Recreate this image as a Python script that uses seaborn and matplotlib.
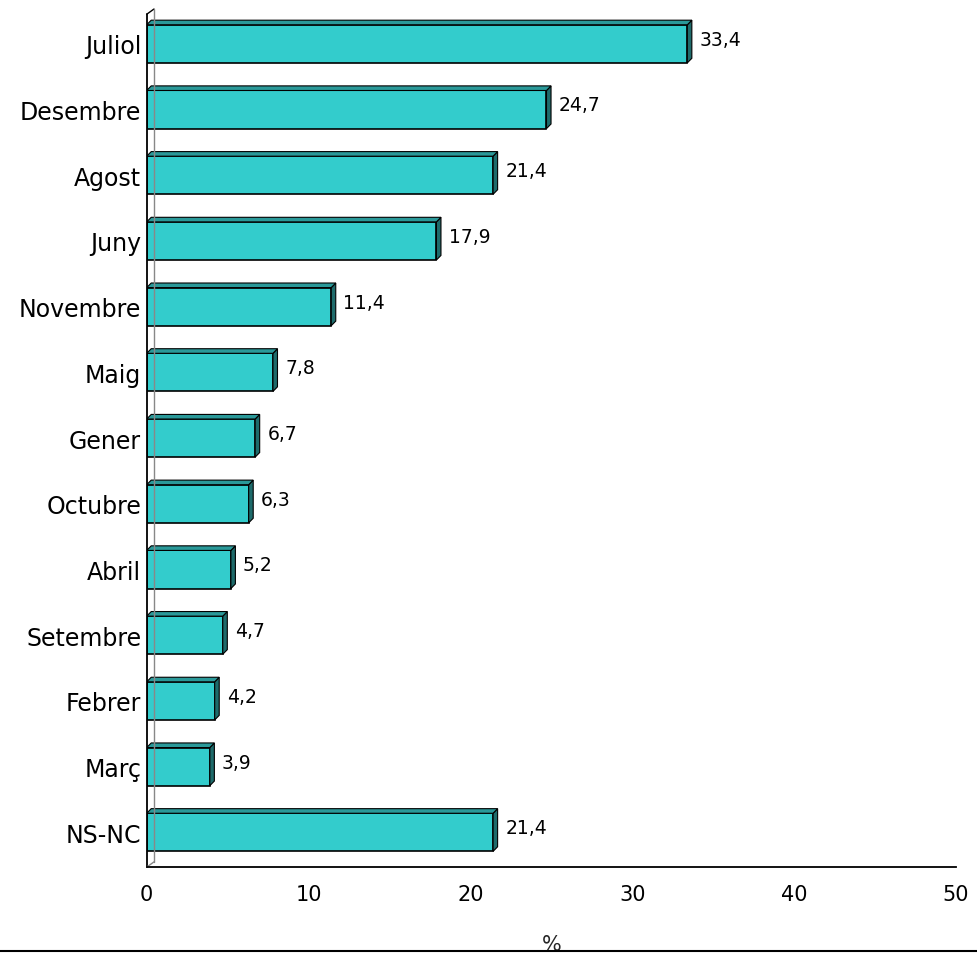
import matplotlib
matplotlib.use("Agg")
import matplotlib.pyplot as plt
import seaborn as sns
import pandas as pd
from matplotlib.patches import Polygon
from matplotlib.lines import Line2D

# ========= Data =========
months = ["Juliol", "Desembre", "Agost", "Juny", "Novembre", "Maig", "Gener",
          "Octubre", "Abril", "Setembre", "Febrer", "Març", "NS-NC"]
percent = [33.4, 24.7, 21.4, 17.9, 11.4, 7.8, 6.7, 6.3, 5.2, 4.7, 4.2, 3.9, 21.4]
labels = ["33,4", "24,7", "21,4", "17,9", "11,4", "7,8", "6,7",
          "6,3", "5,2", "4,7", "4,2", "3,9", "21,4"]

df = pd.DataFrame({"mes": months, "pct": percent})

# ========= Plot =========
sns.set_style("white")
plt.rcParams["font.family"] = ["DejaVu Sans"]
plt.rcParams["text.color"] = "black"
plt.rcParams["xtick.color"] = "black"
plt.rcParams["ytick.color"] = "black"

fig = plt.figure(figsize=(9.78, 9.54), dpi=100)
ax = fig.add_axes([0.150, 0.090, 0.8275, 0.8995])

sns.barplot(data=df, x="pct", y="mes", order=months, color="#33CCCC",
            saturation=1, width=0.58, edgecolor="black", linewidth=1.2, ax=ax)

# fake 3D depth: a dark side face and a top face on every bar
dx, dy = 0.28, 0.07
for bar in ax.patches[:len(months)]:
    x0, y0 = bar.get_x(), bar.get_y()
    w, h = bar.get_width(), bar.get_height()
    side = Polygon([(x0 + w, y0), (x0 + w + dx, y0 - dy),
                    (x0 + w + dx, y0 + h - dy), (x0 + w, y0 + h)],
                   closed=True, facecolor="#1E6B6B", edgecolor="black", linewidth=0.8)
    top = Polygon([(x0, y0), (x0 + dx, y0 - dy), (x0 + w + dx, y0 - dy), (x0 + w, y0)],
                  closed=True, facecolor="#2A9999", edgecolor="black", linewidth=0.8)
    ax.add_patch(side)
    ax.add_patch(top)

for i, (v, lab) in enumerate(zip(percent, labels)):
    ax.text(v + 0.75, i - 0.07, lab, va="center", ha="left", fontsize=13.5,
            color="black")

ax.set_xlim(0, 50)
ax.set_ylim(12.53, -0.53)
ax.set_xticks([0, 10, 20, 30, 40, 50])
ax.tick_params(axis="x", labelsize=15, length=0, pad=12)
ax.tick_params(axis="y", labelsize=17, length=0, pad=4)
ax.set_ylabel("")
ax.set_xlabel("%", fontsize=15, labelpad=22)

for s in ["top", "right", "left"]:
    ax.spines[s].set_visible(False)
ax.spines["bottom"].set_color("black")
ax.spines["bottom"].set_linewidth(1.3)

# 3D wall on the left: front edge, back edge and the slants joining them
ax.plot([0, 0], [12.53, -0.45], color="black", linewidth=1.3, clip_on=False)
ax.plot([0, 0.45], [-0.45, -0.53], color="black", linewidth=1, clip_on=False)
ax.plot([0.45, 0.45], [-0.53, 12.45], color="#888888", linewidth=1, clip_on=False)
ax.plot([0, 0.45], [12.53, 12.45], color="#888888", linewidth=1, clip_on=False)

# border line at the very bottom of the figure
fig.add_artist(Line2D([0, 1], [0.002, 0.002], color="black", linewidth=1.5))

fig.savefig("out.png", dpi=100)
